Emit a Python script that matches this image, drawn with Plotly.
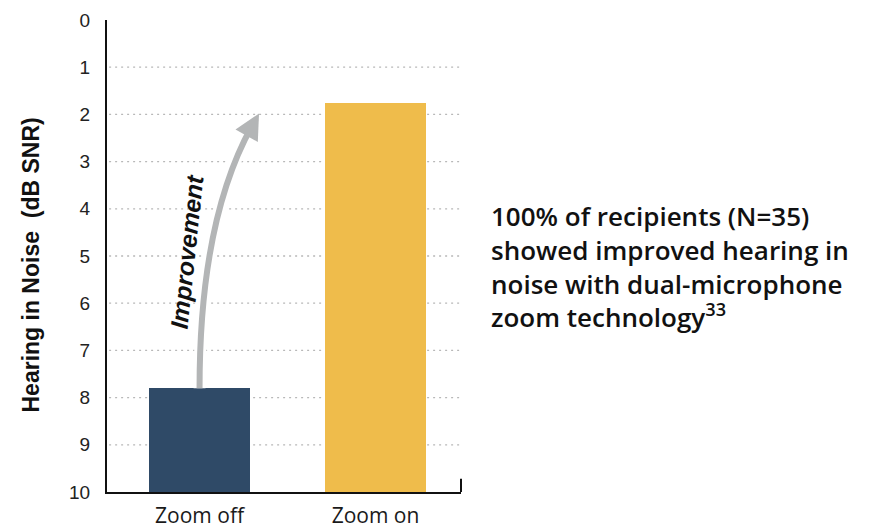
import plotly.graph_objects as go

# ---- data ----
categories = ["Zoom off", "Zoom on"]
snr_values = [7.8, 1.75]          # Hearing in noise, dB SNR (lower is better)
axis_floor = 10                   # bars grow from 10 dB toward 0
y_ticks = list(range(0, 11))
bar_colors = ["#2f4a67", "#efbc4b"]

x_pos = list(range(len(categories)))

fig = go.Figure()
fig.add_trace(go.Bar(
    x=x_pos,
    y=[v - axis_floor for v in snr_values],
    base=[axis_floor] * len(snr_values),
    marker=dict(color=bar_colors, line=dict(width=0)),
    width=0.574,
    hoverinfo="skip",
))

shapes = []
# dotted grid lines (1..9)
for t in y_ticks[1:-1]:
    shapes.append(dict(type="line", xref="paper", yref="y", x0=0.006, x1=1, y0=t, y1=t,
                       line=dict(color="#b8b8b8", width=1.3, dash="2px,4px"), layer="below"))
# right end tick of x axis
shapes.append(dict(type="line", xref="paper", yref="y", x0=1, x1=1, y0=axis_floor, y1=axis_floor - 0.28,
                   line=dict(color="#111", width=2)))

# curved "Improvement" arrow from Zoom off bar top toward Zoom on level
x0, y0 = x_pos[0], snr_values[0]
cx, cy = x_pos[0], 4.25
ex, ey = 0.297, snr_values[1] + 0.5
path = f"M {x0},{y0} Q {cx},{cy} {ex},{ey}"
shapes.append(dict(type="path", path=path, xref="x", yref="y",
                   line=dict(color="white", width=12)))
shapes.append(dict(type="path", path=path, xref="x", yref="y",
                   line=dict(color="#b3b5b6", width=6)))

fig.update_layout(
    width=864, height=520,
    margin=dict(l=99, r=411, t=12, b=36, autoexpand=False),
    plot_bgcolor="white", paper_bgcolor="white",
    showlegend=False,
    bargap=0,
    shapes=shapes,
    xaxis=dict(
        range=[-0.526, 1.486], tickvals=x_pos, ticktext=categories,
        showgrid=False, zeroline=False, showline=True, linecolor="#111", linewidth=2,
        ticks="outside", ticklen=4, tickcolor="rgba(0,0,0,0)", automargin=False,
        tickfont=dict(family="Open Sans", size=21, color="#1a1a1a"),
        fixedrange=True,
    ),
    yaxis=dict(
        range=[10, 0], tickvals=y_ticks,
        showgrid=False, zeroline=False, showline=True, linecolor="#111", linewidth=2,
        ticks="outside", ticklen=11, tickcolor="rgba(0,0,0,0)", automargin=False,
        tickfont=dict(family="Liberation Sans", size=19, color="#222"),
        fixedrange=True,
    ),
)

annotations = [
    # arrow head
    dict(x=0.338, y=1.98, xref="x", yref="y", text="", showarrow=True,
         arrowhead=2, arrowsize=0.85, arrowwidth=6, arrowcolor="#b3b5b6",
         ax=-9.7, ay=17.5, standoff=0),
    # arrow label
    dict(x=-0.072, y=4.9, xref="x", yref="y", text="<b><i>Improvement</i></b>",
         showarrow=False, textangle=-84, xanchor="center", yanchor="middle",
         font=dict(family="Liberation Sans", size=24.5, color="#111")),
    # y axis title
    dict(x=-0.2147, y=0.482, xref="paper", yref="paper", xanchor="center", yanchor="middle",
         text="<b>Hearing in Noise  (dB SNR)</b>", showarrow=False, textangle=-90,
         font=dict(family="Liberation Sans", size=23, color="#111")),
    # side note
    dict(x=1.079, y=0.478, xref="paper", yref="paper", xanchor="left", yanchor="middle",
         align="left", showarrow=False,
         text=("100% of recipients (N=35)<br>showed improved hearing in<br>"
               "noise with dual-microphone<br>zoom technology<sup>33</sup>"),
         font=dict(family="Open Sans", size=26, color="#111", weight=600)),
]
fig.update_layout(annotations=annotations)

fig.write_html("out.html")
